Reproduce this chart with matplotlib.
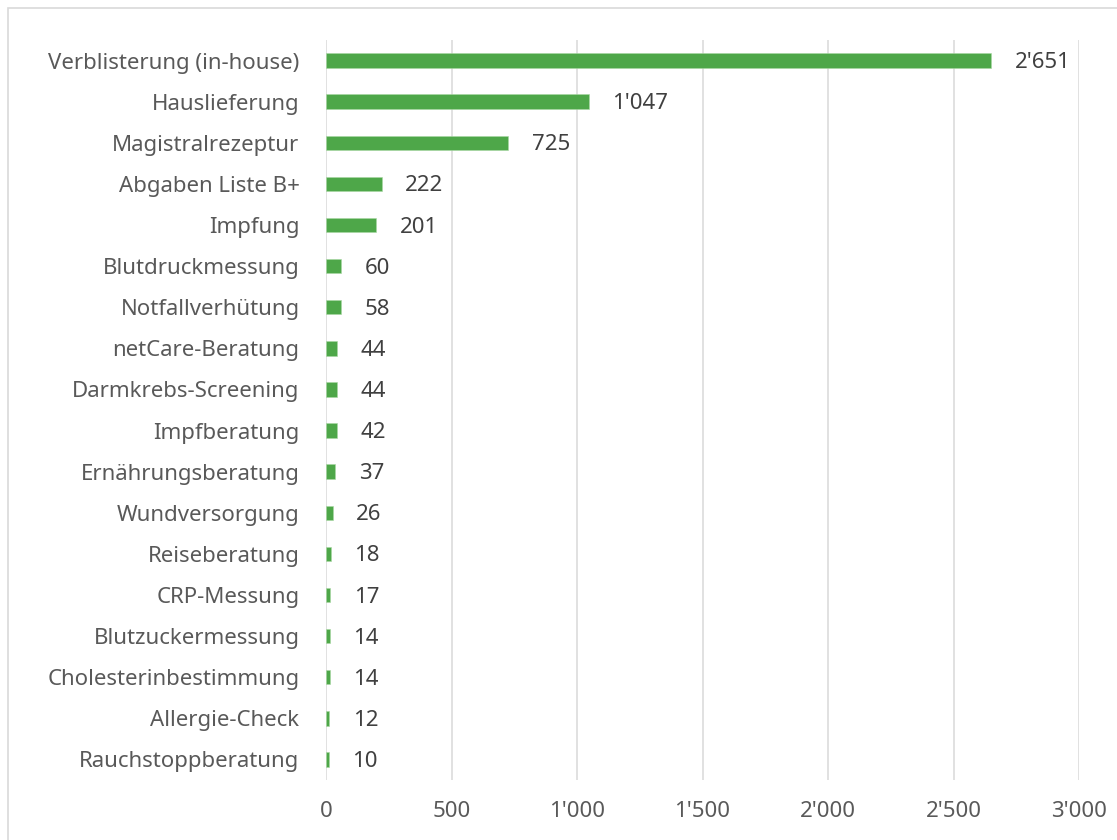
import matplotlib
matplotlib.use("Agg")
import matplotlib.pyplot as plt
from matplotlib.patches import Rectangle
from matplotlib.ticker import FuncFormatter

categories = [
    "Verblisterung (in-house)", "Hauslieferung", "Magistralrezeptur",
    "Abgaben Liste B+", "Impfung", "Blutdruckmessung", "Notfallverhütung",
    "netCare-Beratung", "Darmkrebs-Screening", "Impfberatung",
    "Ernährungsberatung", "Wundversorgung", "Reiseberatung", "CRP-Messung",
    "Blutzuckermessung", "Cholesterinbestimmung", "Allergie-Check",
    "Rauchstoppberatung",
]
values = [2651, 1047, 725, 222, 201, 60, 58, 44, 44, 42, 37, 26, 18, 17, 14, 14, 12, 10]
x_ticks = [0, 500, 1000, 1500, 2000, 2500, 3000]


def swiss(v, pos=None):
    return f"{int(v):,}".replace(",", "'")


plt.rcParams["font.family"] = ["Noto Sans", "DejaVu Sans"]

fig = plt.figure(figsize=(11.17, 8.4), dpi=100)
ax = fig.add_axes([326 / 1117, 60 / 840, (1079 - 326) / 1117, (780 - 40) / 840])

# light frame round the chart area
fig.patches.append(Rectangle((8 / 1117, -0.1), 1.2, 0.1 + (840 - 8) / 840,
                             transform=fig.transFigure, fill=False,
                             edgecolor="#D9D9D9", linewidth=1.2))

ypos = list(range(len(categories)))
ax.barh(ypos, values, height=0.35, color="#4EA749", edgecolor="#A9D8A4", linewidth=0.4, zorder=3)

for y, v in zip(ypos, values):
    ax.annotate(swiss(v), (v, y), xytext=(17, -1.5), textcoords="offset points",
                va="center", ha="left", fontsize=16, color="#404040")

ax.set_xlim(0, 3000)
ax.set_ylim(len(categories) - 0.5, -0.5)
ax.set_xticks(x_ticks)
ax.xaxis.set_major_formatter(FuncFormatter(swiss))
ax.set_yticks(ypos)
ax.set_yticklabels(categories)
ax.tick_params(axis="y", length=0, pad=19, labelsize=16, labelcolor="#595959")
ax.tick_params(axis="x", length=0, pad=15, labelsize=16, labelcolor="#595959")
ax.grid(axis="x", color="#D9D9D9", linewidth=1.1, zorder=0)
for s in ax.spines.values():
    s.set_visible(False)

fig.savefig("out.png", dpi=100)
